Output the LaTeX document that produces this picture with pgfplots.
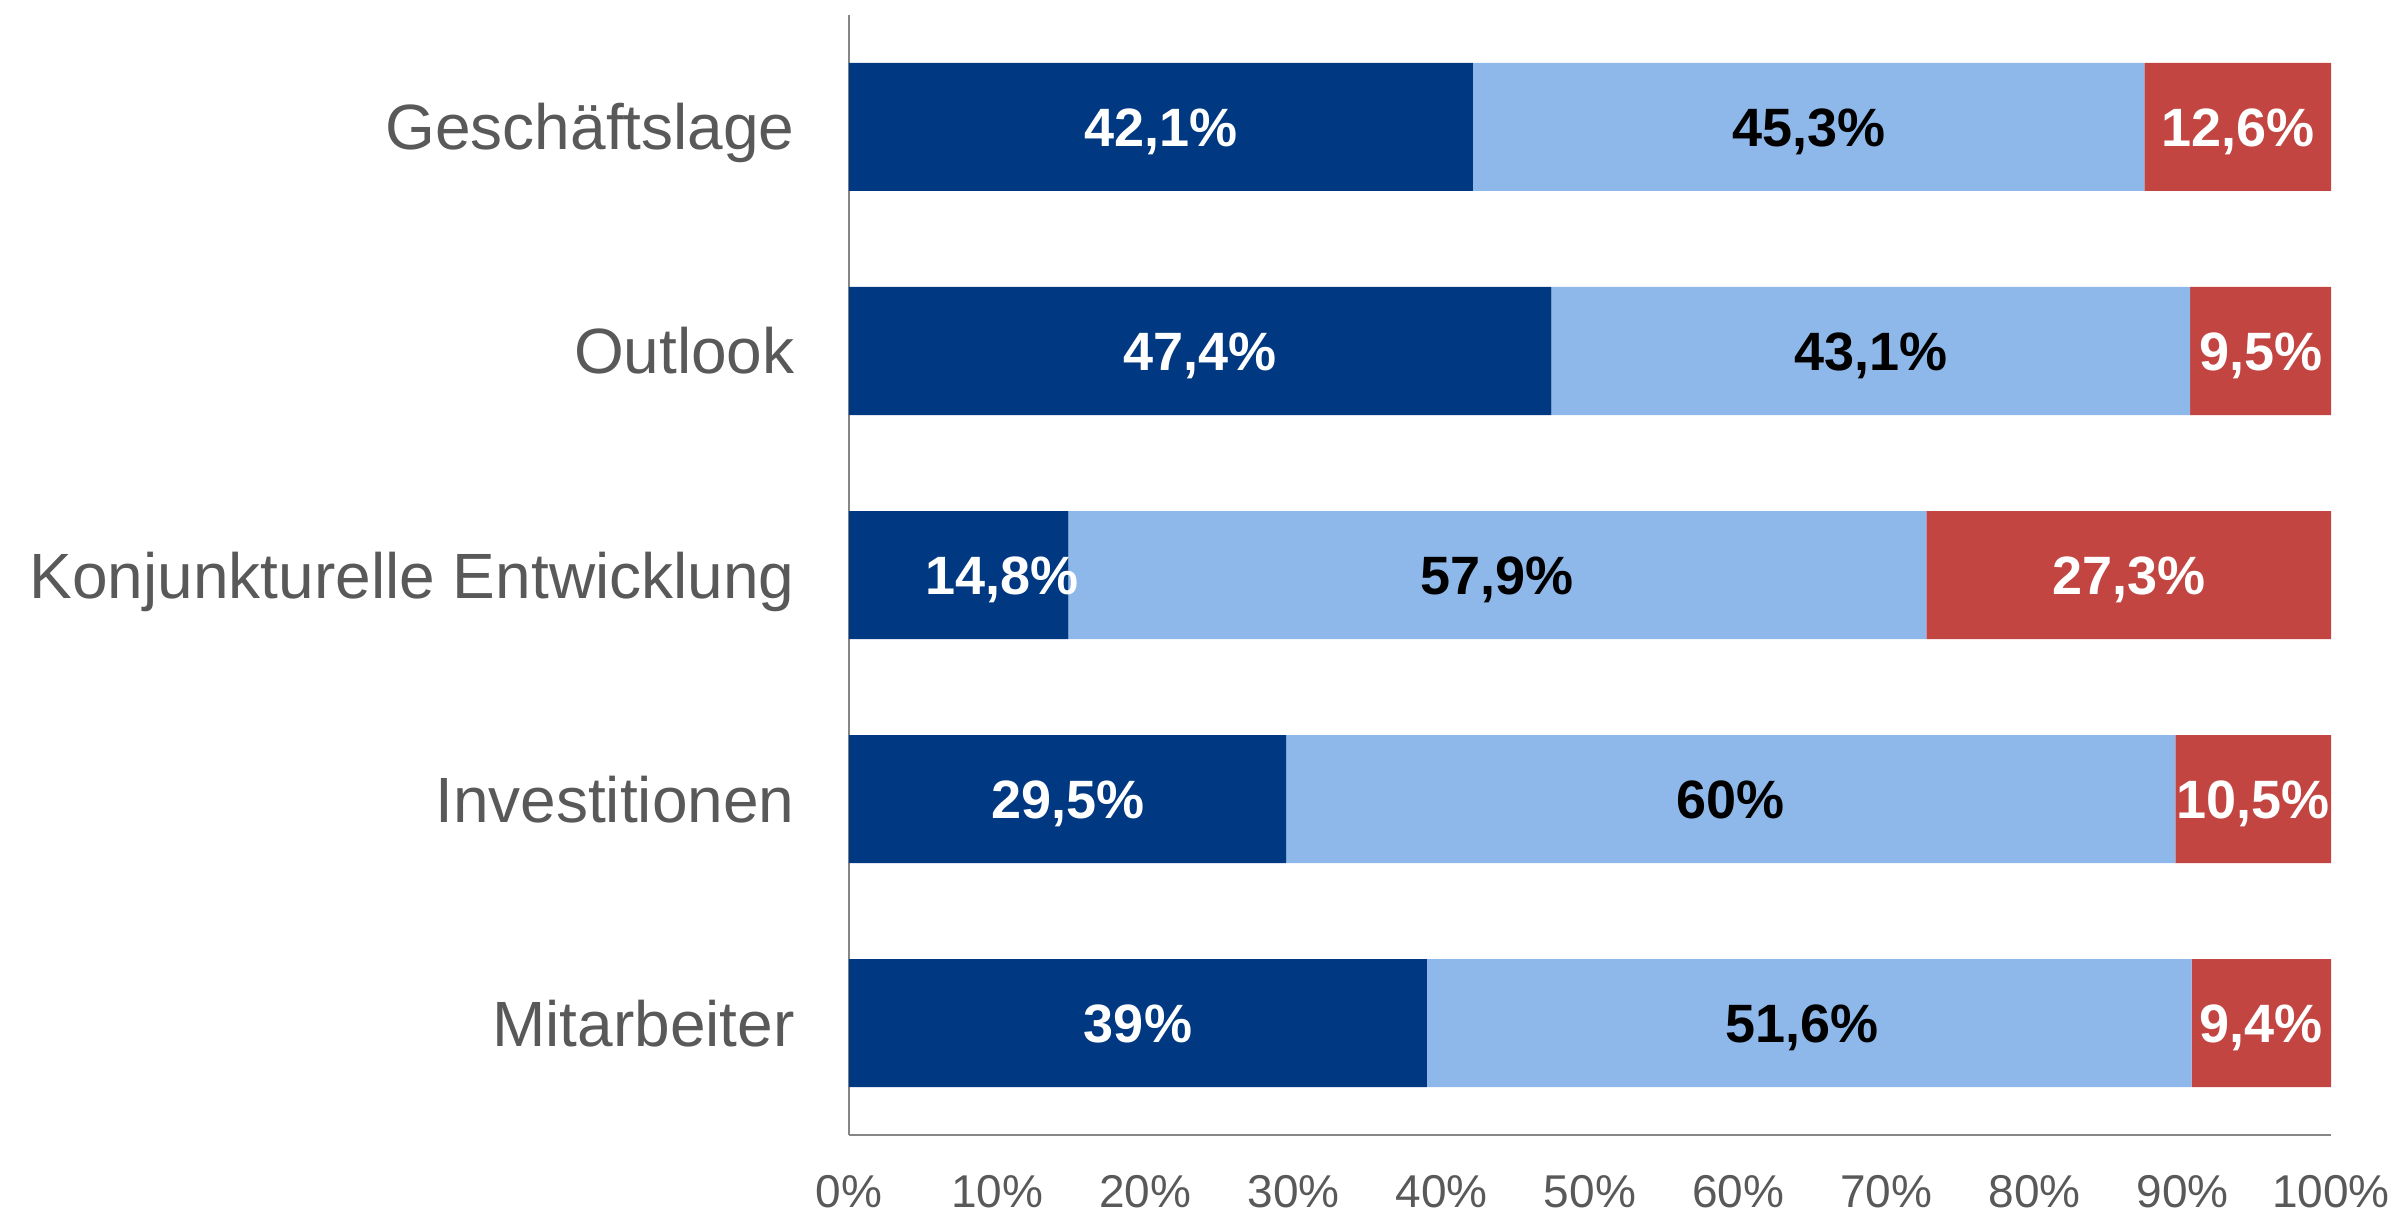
\documentclass[border=0pt]{standalone}
\usepackage{pgfplots}
\pgfplotsset{compat=1.18}
\usepackage{fontspec}
\setmainfont{Liberation Sans}
\definecolor{dblue}{HTML}{003882}
\definecolor{lblue}{HTML}{8EB8E9}
\definecolor{dred}{HTML}{C34542}
\definecolor{txtgray}{HTML}{595959}
\definecolor{axgray}{HTML}{868686}
\begin{document}
\begin{tikzpicture}
\pgfplotsset{common/.style={
  scale only axis, width=741pt, height=560pt,
  at={(0,0)}, anchor=south west,
  xmin=0, xmax=100, ymin=0.5, ymax=5.5, y dir=reverse}}
\begin{axis}[common,
  xbar stacked, bar width=64pt,
  axis x line*=bottom, axis y line*=left,
  axis line style={-, draw=axgray, line width=1pt},
  major tick length=0pt,
  xtick={0,10,...,100},
  xticklabels={0\%,10\%,20\%,30\%,40\%,50\%,60\%,70\%,80\%,90\%,100\%},
  ytick={1,2,3,4,5},
  yticklabels={Geschäftslage,Outlook,Konjunkturelle Entwicklung,Investitionen,Mitarbeiter},
  xticklabel style={anchor=north, inner sep=0pt, yshift=-20pt, text=txtgray, font=\fontsize{23}{23}\selectfont},
  yticklabel style={anchor=east, inner sep=0pt, xshift=-27pt, text height=23pt, text depth=0pt, text=txtgray, font=\fontsize{32}{32}\selectfont},
]
\addplot[fill=dblue, draw=none] coordinates {(42.1,1) (47.4,2) (14.8,3) (29.5,4) (39,5)};
\addplot[fill=lblue, draw=none] coordinates {(45.3,1) (43.1,2) (57.9,3) (60,4) (51.6,5)};
\addplot[fill=dred, draw=none] coordinates {(12.6,1) (9.5,2) (27.3,3) (10.5,4) (9.4,5)};
\end{axis}
\begin{axis}[common, hide axis,
  every node near coord/.style={anchor=center, inner sep=0pt, text height=19.4pt, text depth=0pt, font=\bfseries\fontsize{27}{27}\selectfont}]
\addplot[draw=none, mark=none, nodes near coords, point meta=explicit symbolic,
  every node near coord/.append style={text=white}]
  coordinates {(21.05,1) [{42,1\%}] (23.7,2) [{47,4\%}] (10.35,3) [{14,8\%}] (14.75,4) [{29,5\%}] (19.5,5) [{39\%}]};
\addplot[draw=none, mark=none, nodes near coords, point meta=explicit symbolic,
  every node near coord/.append style={text=black}]
  coordinates {(64.75,1) [{45,3\%}] (68.95,2) [{43,1\%}] (43.75,3) [{57,9\%}] (59.5,4) [{60\%}] (64.3,5) [{51,6\%}]};
\addplot[draw=none, mark=none, nodes near coords, point meta=explicit symbolic,
  every node near coord/.append style={text=white}]
  coordinates {(93.7,1) [{12,6\%}] (95.25,2) [{9,5\%}] (86.35,3) [{27,3\%}] (94.75,4) [{10,5\%}] (95.3,5) [{9,4\%}]};
\end{axis}
\pgfresetboundingbox
\path[use as bounding box] (-424.5pt,-41.5pt) rectangle (777pt,567.5pt);
\end{tikzpicture}
\end{document}
